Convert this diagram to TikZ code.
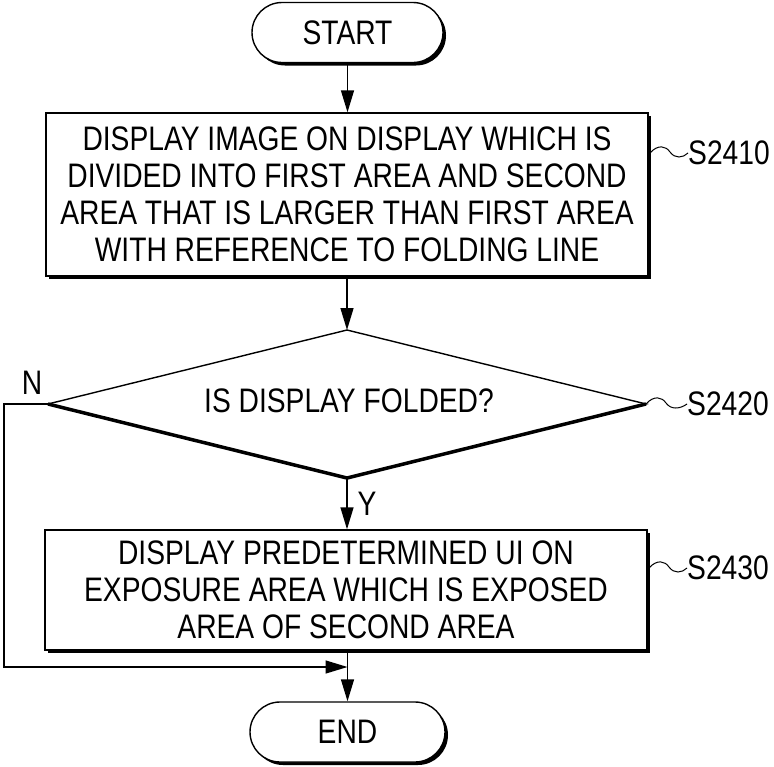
\documentclass[tikz,border=0pt]{standalone}
\usepackage{fontspec}
\setmainfont{Liberation Sans}[FakeStretch=0.83]
\usetikzlibrary{arrows.meta,shadows}
\begin{document}
\begin{tikzpicture}[x=1pt,y=-1pt,
 font=\fontsize{34}{37}\selectfont,
 box/.style={draw,line width=1.4pt,fill=white,rectangle,inner sep=0pt,align=center,
   drop shadow={shadow xshift=3pt,shadow yshift=-3pt,fill=black,opacity=1}},
 term/.style={box,rounded corners=30pt},
 flow/.style={line width=1.4pt,-{Triangle[length=22pt,width=13pt]}},
 squig/.style={line width=1pt},
 lbl/.style={inner sep=0pt,anchor=west},
 tag/.style={inner sep=0pt}
]
\useasboundingbox (0,0) rectangle (774,766);
% nodes
\node[term,minimum width=191pt,minimum height=60pt] (start) at (347.5,32.5) {START};
\node[box,minimum width=602pt,minimum height=163pt] (s1) at (347,194.5)
 {DISPLAY IMAGE ON DISPLAY WHICH IS\\DIVIDED INTO FIRST AREA AND SECOND\\AREA THAT IS LARGER THAN FIRST AREA\\WITH REFERENCE TO FOLDING LINE};
\coordinate (dt) at (347,330);
\coordinate (dl) at (48,404);
\coordinate (dr) at (646,404);
\coordinate (db) at (347,478);
\draw[line width=1.4pt,fill=white] (dt) -- (dr) -- (db) -- (dl) -- cycle;
\draw[line width=3.5pt,yshift=-1.5pt] (dl) -- (db) -- (dr);
\node[tag] (s2) at (349,401) {IS DISPLAY FOLDED?};
\node[box,minimum width=602pt,minimum height=120pt] (s3) at (346,590)
 {DISPLAY PREDETERMINED UI ON\\EXPOSURE AREA WHICH IS EXPOSED\\AREA OF SECOND AREA};
\node[term,minimum width=195pt,minimum height=60pt] (end) at (347.5,732) {END};
% labels
\node[lbl] (l1) at (688,153) {S2410};
\node[lbl] (l2) at (687,404) {S2420};
\node[lbl] (l3) at (687,568) {S2430};
\node[tag] (n) at (32,383) {N};
% connectors
\draw[flow] (start.south) -- (start.south |- s1.north);
\draw[flow] (s1.south -| dt) -- (dt);
\draw[flow] (db) -- (db |- s3.north) node[tag,midway,anchor=west,xshift=10pt] (y) {Y};
\draw[flow] (s3.south -| end.north) -- (end.north);
\coordinate (join) at (347.5,667);
\coordinate (nc) at (4,667);
\draw[flow] (dl) -| (nc) -- (join);
% squiggles
\coordinate (q1) at (650,153);
\coordinate (q3) at (649,568);
\draw[squig] (q1) .. controls (658,144) and (666,146) .. (670,152) .. controls (675,159) and (683,158) .. (l1.west);
\draw[squig] (dr) .. controls (654,395) and (662,397) .. (666,403) .. controls (671,410) and (680,409) .. (l2.west);
\draw[squig] (q3) .. controls (657,559) and (665,561) .. (669,567) .. controls (674,574) and (682,573) .. (l3.west);
\end{tikzpicture}
\end{document}
